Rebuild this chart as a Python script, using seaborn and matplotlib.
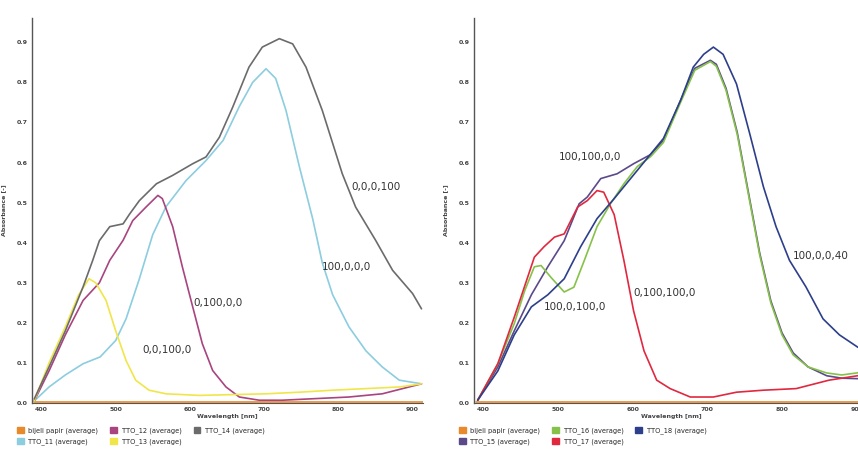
import numpy as np
import pandas as pd
import matplotlib
matplotlib.use("Agg")
import matplotlib.pyplot as plt
import matplotlib.patches as mpatches
import seaborn as sns

sns.set_style("white")
plt.rcParams["font.family"] = ["DejaVu Sans"]

# %% left panel spectra (wavelength in nm, absorbance)
bijeli_nm = [390, 500, 600, 700, 800, 915]
bijeli_abs = [0.003, 0.003, 0.003, 0.003, 0.003, 0.003]

tto11_nm = [390, 410, 432, 456, 479, 500, 514, 532, 550, 568, 595, 622, 645, 667, 685, 703,
            716, 730, 748, 766, 779, 793, 815, 838, 860, 883, 913]
tto11_abs = [0.005, 0.04, 0.07, 0.098, 0.115, 0.156, 0.21, 0.31, 0.42, 0.49, 0.555, 0.605, 0.655,
             0.74, 0.80, 0.834, 0.81, 0.73, 0.59, 0.46, 0.35, 0.27, 0.19, 0.13, 0.09, 0.057, 0.048]

tto12_nm = [390, 410, 432, 456, 478, 492, 510, 523, 541, 557, 563, 577, 590, 604, 617, 631,
            649, 667, 694, 725, 770, 815, 860, 913]
tto12_abs = [0.005, 0.08, 0.17, 0.256, 0.30, 0.356, 0.406, 0.455, 0.489, 0.518, 0.51, 0.44, 0.34,
             0.24, 0.148, 0.081, 0.04, 0.015, 0.007, 0.007, 0.011, 0.015, 0.023, 0.048]

tto13_nm = [390, 410, 432, 450, 464, 473, 487, 500, 514, 527, 545, 568, 613, 658, 703, 748,
            793, 838, 883, 913]
tto13_abs = [0.005, 0.10, 0.19, 0.27, 0.31, 0.30, 0.256, 0.18, 0.106, 0.057, 0.032, 0.023, 0.019,
             0.021, 0.023, 0.027, 0.032, 0.036, 0.04, 0.048]

tto14_nm = [390, 410, 432, 456, 469, 478, 492, 510, 519, 532, 555, 577, 604, 622, 640, 658,
            680, 698, 721, 739, 757, 779, 806, 824, 851, 874, 901, 913]
tto14_abs = [0.01, 0.09, 0.18, 0.29, 0.356, 0.405, 0.44, 0.447, 0.472, 0.505, 0.547, 0.568, 0.597,
             0.614, 0.663, 0.738, 0.838, 0.888, 0.909, 0.896, 0.838, 0.73, 0.572, 0.489, 0.406,
             0.331, 0.273, 0.235]

# %% right panel spectra
tto15_nm = [392, 419, 441, 464, 486, 508, 528, 539, 557, 579, 601, 624, 641, 664, 683, 704,
            712, 725, 740, 755, 770, 785, 800, 815, 835, 860, 880, 915]
tto15_abs = [0.007, 0.09, 0.18, 0.27, 0.34, 0.405, 0.497, 0.514, 0.56, 0.572, 0.597, 0.62, 0.655,
             0.755, 0.835, 0.855, 0.845, 0.785, 0.675, 0.525, 0.375, 0.255, 0.175, 0.125, 0.09,
             0.068, 0.062, 0.06]

tto16_nm = [392, 419, 441, 455, 468, 477, 490, 508, 521, 535, 552, 570, 588, 606, 624, 641,
            664, 683, 704, 712, 725, 740, 755, 770, 785, 800, 815, 835, 860, 880, 900, 915]
tto16_abs = [0.007, 0.098, 0.198, 0.28, 0.34, 0.343, 0.314, 0.277, 0.289, 0.356, 0.44, 0.497,
             0.547, 0.59, 0.615, 0.65, 0.75, 0.83, 0.852, 0.84, 0.78, 0.67, 0.52, 0.37, 0.25,
             0.17, 0.12, 0.09, 0.075, 0.07, 0.075, 0.08]

tto17_nm = [392, 419, 441, 459, 468, 481, 495, 508, 526, 539, 552, 561, 575, 588, 601, 615,
            632, 650, 677, 708, 739, 775, 819, 863, 915]
tto17_abs = [0.007, 0.098, 0.214, 0.314, 0.364, 0.39, 0.414, 0.422, 0.489, 0.505, 0.53, 0.526,
             0.47, 0.356, 0.23, 0.13, 0.057, 0.036, 0.015, 0.015, 0.027, 0.032, 0.036, 0.057,
             0.072]

tto18_nm = [392, 419, 441, 464, 486, 508, 530, 552, 575, 597, 619, 641, 664, 681, 695, 708,
            721, 739, 757, 775, 792, 810, 832, 855, 877, 901, 915]
tto18_abs = [0.007, 0.08, 0.17, 0.24, 0.27, 0.31, 0.39, 0.46, 0.51, 0.56, 0.61, 0.66, 0.755,
             0.838, 0.87, 0.888, 0.87, 0.796, 0.67, 0.54, 0.44, 0.356, 0.29, 0.21, 0.17, 0.14,
             0.125]

left_series = [
    ("bijeli papir (average)", bijeli_nm, bijeli_abs, "#e8892b"),
    ("TTO_11 (average)", tto11_nm, tto11_abs, "#8ccde0"),
    ("TTO_12 (average)", tto12_nm, tto12_abs, "#a8447f"),
    ("TTO_13 (average)", tto13_nm, tto13_abs, "#f0e64a"),
    ("TTO_14 (average)", tto14_nm, tto14_abs, "#6b6b6b"),
]
right_series = [
    ("bijeli papir (average)", bijeli_nm, bijeli_abs, "#e8892b"),
    ("TTO_15 (average)", tto15_nm, tto15_abs, "#5b4a8a"),
    ("TTO_16 (average)", tto16_nm, tto16_abs, "#86c24a"),
    ("TTO_17 (average)", tto17_nm, tto17_abs, "#e0283f"),
    ("TTO_18 (average)", tto18_nm, tto18_abs, "#2d3f8a"),
]

left_labels = [("0,0,0,100", 851, 0.538), ("100,0,0,0", 812, 0.34),
               ("0,100,0,0", 638, 0.249), ("0,0,100,0", 569, 0.132)]
right_labels = [("100,100,0,0", 542, 0.613), ("100,0,100,0", 522, 0.239),
                ("0,100,100,0", 643, 0.274), ("100,0,0,40", 852, 0.367)]

fig = plt.figure(figsize=(8.58, 4.49), dpi=100)
ax_l = fig.add_axes([0.0373, 0.1024, 0.4557, 0.857])
ax_r = fig.add_axes([0.5524, 0.1024, 0.459, 0.857])


def draw_panel(ax, series, labels):
    for name, nm, ab, col in series:
        d = pd.DataFrame({"nm": nm, "abs": ab})
        sns.lineplot(data=d, x="nm", y="abs", ax=ax, color=col, lw=1.2, label=name)
    for txt, x, y in labels:
        ax.text(x, y, txt, fontsize=7.5, color="#333333", ha="center", va="center")
    ax.set_xlim(387, 915)
    ax.set_ylim(0, 0.96)
    ax.set_xticks([400, 500, 600, 700, 800, 900])
    ax.set_yticks(np.arange(0, 0.91, 0.1))
    ax.set_yticklabels([f"{v:.1f}" for v in np.arange(0, 0.91, 0.1)])
    ax.tick_params(labelsize=4.5, colors="#444444", length=0, pad=3)
    for lab in ax.get_xticklabels() + ax.get_yticklabels():
        lab.set_fontweight("bold")
    ax.set_xlabel("Wavelength [nm]", fontsize=4.5, fontweight="bold", color="#444444", labelpad=1)
    ax.set_ylabel("Absorbance [-]", fontsize=4.5, fontweight="bold", color="#444444", labelpad=8)
    for s in ["top", "right"]:
        ax.spines[s].set_visible(False)
    ax.spines["left"].set_color("#555555")
    ax.spines["bottom"].set_color("#555555")
    ax.spines["left"].set_linewidth(1.0)
    ax.spines["bottom"].set_linewidth(0.8)
    handles = [mpatches.Patch(color=c, label=n) for n, _, _, c in series]
    ax.legend(handles=handles, ncol=3, loc="upper left", bbox_to_anchor=(-0.045, -0.055),
              fontsize=4.8, frameon=False, handlelength=1.0, handleheight=1.0,
              columnspacing=1.8, labelspacing=0.6, handletextpad=0.7, borderaxespad=0)


draw_panel(ax_l, left_series, left_labels)
draw_panel(ax_r, right_series, right_labels)

fig.savefig("out.png", dpi=100)
